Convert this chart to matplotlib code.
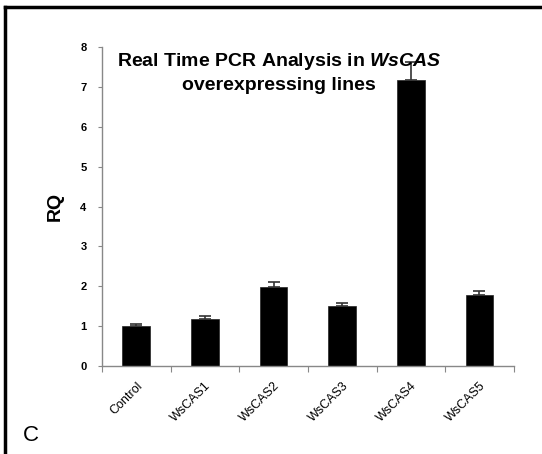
import matplotlib
matplotlib.use('agg')
import matplotlib.pyplot as plt
import numpy as np

# values
lines = ['Control', 'WsCAS1', 'WsCAS2', 'WsCAS3', 'WsCAS4', 'WsCAS5']
rq = [1.0, 1.18, 1.98, 1.5, 7.17, 1.79]
rq_err = [0.05, 0.08, 0.12, 0.08, 0.45, 0.1]
y_ticks = [0, 1, 2, 3, 4, 5, 6, 7, 8]

plt.rcParams['font.family'] = ['Liberation Sans', 'DejaVu Sans']
plt.rcParams['mathtext.fontset'] = 'custom'
plt.rcParams['mathtext.it'] = 'Liberation Sans:italic:bold'
plt.rcParams['mathtext.rm'] = 'Liberation Sans:bold'

fig = plt.figure(figsize=(5.42, 4.54), dpi=100)
ax = fig.add_axes([0.188, 0.194, 0.760, 0.702])

x = np.arange(len(lines))
ax.bar(x, rq, width=0.4, color='black', edgecolor='#222222', linewidth=0.5, zorder=2)
ax.errorbar(x, rq, yerr=[np.zeros(len(rq)), rq_err], fmt='none',
            ecolor='#333333', elinewidth=1.2, capsize=4, capthick=1.2, zorder=3)

ax.set_xlim(-0.5, len(lines) - 0.5)
ax.set_ylim(0, 8)
ax.set_yticks(y_ticks)
ax.set_yticklabels([str(t) for t in y_ticks], fontsize=8, fontweight='bold')

# x ticks sit between the categories, labels at the bar centres
ax.set_xticks(np.arange(-0.5, len(lines)), minor=False)
ax.set_xticklabels([])
ax.set_xticks(x, minor=True)
ax.set_xticklabels(lines, minor=True, rotation=45, ha='right', rotation_mode='anchor',
                   fontsize=9)
ax.tick_params(axis='x', which='minor', length=0, pad=10)
ax.tick_params(axis='x', which='major', length=4, color='#888888')
ax.tick_params(axis='y', length=3, color='#888888', pad=8)

for side in ['top', 'right']:
    ax.spines[side].set_visible(False)
for side in ['left', 'bottom']:
    ax.spines[side].set_color('#888888')
    ax.spines[side].set_linewidth(1.0)

ax.set_ylabel('RQ', fontsize=14, fontweight='bold', labelpad=12)

ax.text(0.43, 0.955, 'Real Time PCR Analysis in $\\it{WsCAS}$',
        transform=ax.transAxes, ha='center', va='center', fontsize=14, fontweight='bold')
ax.text(0.43, 0.88, 'overexpressing lines',
        transform=ax.transAxes, ha='center', va='center', fontsize=14, fontweight='bold')

fig.text(0.057, 0.04, 'C', fontsize=16, ha='center', va='center')

# panel frame: top and left edges only
fig.add_artist(plt.Line2D([0.01, 1.0], [0.985, 0.985], color='black', linewidth=2.5,
                          transform=fig.transFigure))
fig.add_artist(plt.Line2D([0.01, 0.01], [0.0, 0.985], color='black', linewidth=2.5,
                          transform=fig.transFigure))

plt.savefig('out.png', dpi=100)
